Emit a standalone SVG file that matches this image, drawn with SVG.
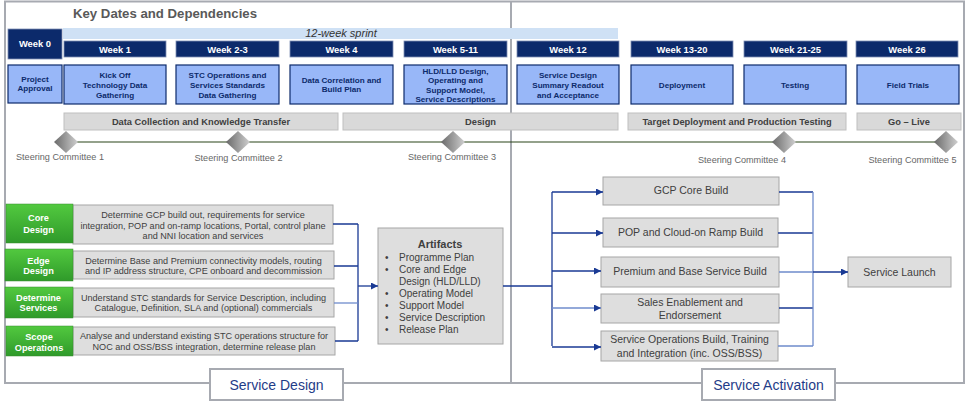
<svg xmlns="http://www.w3.org/2000/svg" width="967" height="403" viewBox="0 0 967 403">
<style>
text{font-family:"Liberation Sans",Arial,sans-serif}
.frame{fill:none;stroke:#a7aab1;stroke-width:2}
.wh{fill:#0c2a6b;stroke:#7f8fb5;stroke-width:0.8}
.wt{fill:#fff;font-weight:bold;font-size:9.4px;text-anchor:middle}
.cb{fill:#98b7f8;stroke:#0c2a6b;stroke-width:1.2}
.ct{fill:#0c2a6b;font-weight:bold;font-size:8.1px;text-anchor:middle}
.ph{fill:#d9d9d9;stroke:#bfbfbf;stroke-width:1}
.pt{fill:#404040;font-weight:bold;font-size:9.3px;text-anchor:middle}
.sc{fill:#666;font-size:9.1px;text-anchor:middle}
.gb{fill:url(#green);stroke:#3a8a30;stroke-width:0.5}
.gt{fill:#fff;font-weight:bold;font-size:9.2px;text-anchor:middle}
.db{fill:#dedede;stroke:#a6a6a6;stroke-width:1}
.dt{fill:#404040;font-size:9.1px;text-anchor:middle}
.rt{fill:#404040;font-size:10.5px;text-anchor:middle}
.at{fill:#404040;font-size:10px}
.ln{fill:none;stroke:#1a3a94;stroke-width:1.3}
.lnl{fill:none;stroke:#6f8ccc;stroke-width:1.3}
.tab{fill:#fff;stroke:#a7aab1;stroke-width:2}
.tt{fill:#1f3c88;font-size:14px;text-anchor:middle}
</style>
<defs>
<linearGradient id="dia" x1="0" y1="0" x2="1" y2="0">
<stop offset="0" stop-color="#6a6a6a"/><stop offset="1" stop-color="#cfcfcf"/>
</linearGradient>
<linearGradient id="green" x1="0" y1="0" x2="0" y2="1">
<stop offset="0" stop-color="#52c93f"/><stop offset="1" stop-color="#2f9a2a"/>
</linearGradient>
<marker id="arr" viewBox="0 0 10 10" refX="10" refY="5" markerWidth="7" markerHeight="7" markerUnits="userSpaceOnUse" orient="auto">
<path d="M0,0 L10,5 L0,10 z" fill="#1a3a94"/>
</marker>
</defs>
<rect width="967" height="403" fill="#fff"/>
<g id="frame">
<rect class="frame" x="5" y="1.5" width="959" height="381.5"/>
<line class="frame" x1="511" y1="1.5" x2="511" y2="383"/>
</g>
<text x="73" y="18" font-size="13.2" font-weight="bold" fill="#595959">Key Dates and Dependencies</text>
<g id="sprint">
<rect x="63" y="28" width="555" height="11" fill="#cfe1f5"/>
<text x="341" y="37" font-size="11" font-style="italic" fill="#333" text-anchor="middle">12-week sprint</text>
</g>
<g id="week0">
<rect class="wh" x="8" y="29" width="54" height="30"/>
<text class="wt" x="35" y="47" font-size="8.6">Week 0</text>
</g>
<g id="approval">
<rect class="cb" x="8" y="65" width="54" height="38"/>
<text class="ct" x="35" y="82">Project</text>
<text class="ct" x="35" y="91">Approval</text>
</g>
<g id="w1"><rect class="wh" x="64" y="41" width="102" height="16"/><text class="wt" x="115" y="52.5">Week 1</text>
<rect class="cb" x="64" y="65" width="102" height="39"/>
<text class="ct" x="115" y="78">Kick Off</text><text class="ct" x="115" y="87.5">Technology Data</text><text class="ct" x="115" y="97.5">Gathering</text></g>
<g id="w2"><rect class="wh" x="176" y="41" width="103" height="16"/><text class="wt" x="227.5" y="52.5">Week 2-3</text>
<rect class="cb" x="176" y="65" width="103" height="39"/>
<text class="ct" x="227.5" y="78">STC Operations and</text><text class="ct" x="227.5" y="87.5">Services Standards</text><text class="ct" x="227.5" y="97.5">Data Gathering</text></g>
<g id="w4"><rect class="wh" x="290" y="41" width="103" height="16"/><text class="wt" x="341.5" y="52.5">Week 4</text>
<rect class="cb" x="290" y="65" width="103" height="39"/>
<text class="ct" x="341.5" y="83">Data Correlation and</text><text class="ct" x="341.5" y="92">Build Plan</text></g>
<g id="w5"><rect class="wh" x="404" y="41" width="103" height="16"/><text class="wt" x="455.5" y="52.5">Week 5-11</text>
<rect class="cb" x="404" y="65" width="103" height="39"/>
<text class="ct" x="455.5" y="73.5">HLD/LLD Design,</text><text class="ct" x="455.5" y="83">Operating and</text><text class="ct" x="455.5" y="92.5">Support Model,</text><text class="ct" x="455.5" y="102">Service Descriptions</text></g>
<g id="w12"><rect class="wh" x="517" y="41" width="102" height="16"/><text class="wt" x="568" y="52.5">Week 12</text>
<rect class="cb" x="517" y="65" width="102" height="39"/>
<text class="ct" x="568" y="78">Service Design</text><text class="ct" x="568" y="87.5">Summary Readout</text><text class="ct" x="568" y="97.5">and Acceptance</text></g>
<g id="w13"><rect class="wh" x="631" y="41" width="102" height="16"/><text class="wt" x="682" y="52.5">Week 13-20</text>
<rect class="cb" x="631" y="65" width="102" height="39"/>
<text class="ct" x="682" y="87.5">Deployment</text></g>
<g id="w21"><rect class="wh" x="744" y="41" width="103" height="16"/><text class="wt" x="795.5" y="52.5">Week 21-25</text>
<rect class="cb" x="744" y="65" width="102" height="39"/>
<text class="ct" x="795" y="87.5">Testing</text></g>
<g id="w26"><rect class="wh" x="856" y="41" width="102" height="16"/><text class="wt" x="907" y="52.5">Week 26</text>
<rect class="cb" x="857" y="65" width="102" height="39"/>
<text class="ct" x="908" y="87.5">Field Trials</text></g>
<g id="phases">
<rect class="ph" x="64" y="113" width="274" height="17"/><text class="pt" x="201" y="124.5">Data Collection and Knowledge Transfer</text>
<rect class="ph" x="343" y="113" width="275" height="17"/><text class="pt" x="480.5" y="124.5">Design</text>
<rect class="ph" x="628" y="113" width="218" height="17"/><text class="pt" x="737" y="124.5">Target Deployment and Production Testing</text>
<rect class="ph" x="857" y="113" width="104" height="17"/><text class="pt" x="909" y="124.5">Go – Live</text>
</g>
<g id="timeline">
<line x1="66" y1="142" x2="946" y2="142" stroke="#2b4418" stroke-width="1.2"/>
<path d="M66,131 L78,142 L66,153 L54,142 z" fill="url(#dia)"/>
<path d="M238,131 L250,142 L238,153 L226,142 z" fill="url(#dia)"/>
<path d="M453,131 L465,142 L453,153 L441,142 z" fill="url(#dia)"/>
<path d="M784,131 L796,142 L784,153 L772,142 z" fill="url(#dia)"/>
<path d="M946,131 L958,142 L946,153 L934,142 z" fill="url(#dia)"/>
<text class="sc" x="60" y="160">Steering Committee 1</text>
<text class="sc" x="238.5" y="161">Steering Committee 2</text>
<text class="sc" x="452" y="160">Steering Committee 3</text>
<text class="sc" x="742" y="163">Steering Committee 4</text>
<text class="sc" x="912.5" y="163">Steering Committee 5</text>
</g>
<g id="core"><rect class="db" x="73" y="205" width="260" height="39"/>
<text class="dt" x="203" y="217.5">Determine GCP build out, requirements for service</text>
<text class="dt" x="203" y="228.5">integration, POP and on-ramp locations, Portal, control plane</text>
<text class="dt" x="203" y="238.5">and NNI location and services</text>
<rect class="gb" x="6" y="204" width="67" height="39"/>
<text class="gt" x="38.5" y="221">Core</text><text class="gt" x="38.5" y="232.5">Design</text></g>
<g id="edge"><rect class="db" x="73" y="251" width="261" height="28"/>
<text class="dt" x="203.5" y="263.5">Determine Base and Premium connectivity models, routing</text>
<text class="dt" x="203.5" y="274">and IP address structure, CPE onboard and decommission</text>
<rect class="gb" x="5" y="249" width="68" height="32"/>
<text class="gt" x="38.5" y="263.5">Edge</text><text class="gt" x="38.5" y="274">Design</text></g>
<g id="services"><rect class="db" x="73" y="288" width="261" height="29"/>
<text class="dt" x="203.5" y="300.5">Understand STC standards for Service Description, including</text>
<text class="dt" x="203.5" y="311">Catalogue, Definition, SLA and (optional) commercials</text>
<rect class="gb" x="5" y="287" width="68" height="31"/>
<text class="gt" x="38.5" y="300.5">Determine</text><text class="gt" x="38.5" y="311">Services</text></g>
<g id="scope"><rect class="db" x="73" y="327" width="262" height="28"/>
<text class="dt" x="204" y="339">Analyse and understand existing STC operations structure for</text>
<text class="dt" x="204" y="350">NOC and OSS/BSS integration, determine release plan</text>
<rect class="gb" x="6" y="326" width="67" height="30"/>
<text class="gt" x="39" y="339.5">Scope</text><text class="gt" x="39" y="350.5">Operations</text></g>
<g id="artifacts"><rect class="db" x="378" y="228" width="125" height="116"/>
<text x="440" y="248" font-size="11" font-weight="bold" fill="#404040" text-anchor="middle">Artifacts</text>
<g class="at">
<text x="385" y="261">•</text><text x="399" y="261">Programme Plan</text>
<text x="385" y="273">•</text><text x="399" y="273">Core and Edge</text>
<text x="399" y="285">Design (HLD/LLD)</text>
<text x="385" y="297">•</text><text x="399" y="297">Operating Model</text>
<text x="385" y="309">•</text><text x="399" y="309">Support Model</text>
<text x="385" y="321">•</text><text x="399" y="321">Service Description</text>
<text x="385" y="333">•</text><text x="399" y="333">Release Plan</text>
</g></g>
<g id="gcp"><rect class="db" x="603" y="177" width="176" height="28"/><text class="rt" x="691" y="194">GCP Core Build</text></g>
<g id="pop"><rect class="db" x="603" y="218" width="175" height="29"/><text class="rt" x="690.5" y="236">POP and Cloud-on Ramp Build</text></g>
<g id="premium"><rect class="db" x="601" y="257" width="178" height="30"/><text class="rt" x="690" y="275">Premium and Base Service Build</text></g>
<g id="sales"><rect class="db" x="601" y="294" width="178" height="29"/><text class="rt" x="690" y="306">Sales Enablement and</text><text class="rt" x="690" y="319">Endorsement</text></g>
<g id="ops"><rect class="db" x="601" y="331" width="177" height="30"/><text class="rt" x="689.5" y="343">Service Operations Build, Training</text><text class="rt" x="689.5" y="357">and Integration (inc. OSS/BSS)</text></g>
<g id="launch"><rect class="db" x="848" y="257" width="103" height="30"/><text class="rt" x="899.5" y="276">Service Launch</text></g>
<g id="connectors">
<path class="ln" d="M333,224 H358 M334,266 H358 M335,341 H358 M358,224 V341"/>
<path class="lnl" d="M334,303 H358"/>
<path class="ln" d="M358,286 H378" marker-end="url(#arr)"/>
<path class="ln" d="M503,286 H552" stroke-width="2.2"/>
<path class="ln" d="M552,192 V346"/>
<path class="ln" d="M552,192 H603" marker-end="url(#arr)"/>
<path class="ln" d="M552,233 H603" marker-end="url(#arr)"/>
<path class="ln" d="M552,271 H601" marker-end="url(#arr)"/>
<path class="lnl" d="M552,308 H601" marker-end="url(#arr)"/>
<path class="ln" d="M552,347 H601" marker-end="url(#arr)"/>
<path class="ln" d="M779,192 H813 M778,233 H813 M779,308 H813"/>
<path class="lnl" d="M779,272 H813 M778,346 H813 M813,192 V346"/>
<path class="ln" d="M813,272 H848" stroke-width="2" marker-end="url(#arr)"/>
</g>
<g id="tab-design"><rect class="tab" x="210" y="369" width="133" height="31"/><text class="tt" x="276.5" y="390">Service Design</text></g>
<g id="tab-activation"><rect class="tab" x="702" y="369" width="133" height="31"/><text class="tt" x="768.5" y="390">Service Activation</text></g>
</svg>
